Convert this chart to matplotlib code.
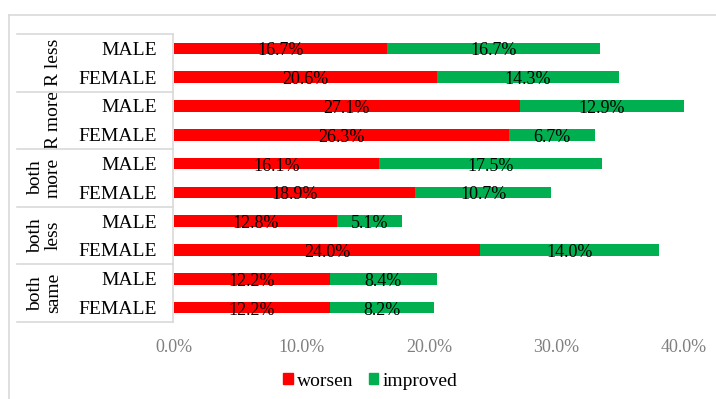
import matplotlib.pyplot as plt
import matplotlib.transforms as mtransforms
from matplotlib.patches import Patch
from matplotlib.lines import Line2D

plt.rcParams['font.family'] = ['Liberation Serif', 'DejaVu Serif']

# groups and rows, top to bottom
groups = ['R less', 'R more', 'both\nmore', 'both\nless', 'both\nsame']
sexes = ['MALE', 'FEMALE']
worsen = [16.7, 20.6, 27.1, 26.3, 16.1, 18.9, 12.8, 24.0, 12.2, 12.2]
improved = [16.7, 14.3, 12.9, 6.7, 17.5, 10.7, 5.1, 14.0, 8.4, 8.2]
ticks = [0, 10, 20, 30, 40]

RED = '#FF0000'
GREEN = '#00B050'
GRID = '#D9D9D9'

W, H = 716, 399
fig = plt.figure(figsize=(W / 100, H / 100), dpi=100)

def fx(px):
    return px / W

def fy(py):
    return 1 - py / H

x0, x1 = 174, 684
y_top, y_bot = 34, 322
ax = fig.add_axes([fx(x0), fy(y_bot), fx(x1) - fx(x0), fy(y_top) - fy(y_bot)])

n = len(worsen)
rows = list(range(n))
ax.barh(rows, worsen, height=0.4, color=RED, clip_on=False)
ax.barh(rows, improved, left=worsen, height=0.4, color=GREEN, clip_on=False)

for i in rows:
    ax.text(worsen[i] / 2, i + 0.09, f'{worsen[i]:.1f}%', ha='center', va='center',
            fontsize=13, color='black')
    ax.text(worsen[i] + improved[i] / 2, i + 0.09, f'{improved[i]:.1f}%',
            ha='center', va='center', fontsize=13, color='black')

ax.set_xlim(0, 40)
ax.set_ylim(n - 0.5, -0.5)
ax.set_xticks(ticks)
ax.set_xticklabels([f'{t:.1f}%' for t in ticks], fontsize=13, color='#7F7F7F')
ax.set_yticks(rows)
ax.set_yticklabels(sexes * len(groups), fontsize=14, color='black')
ax.tick_params(axis='x', length=0, pad=12)
ax.tick_params(axis='y', length=0, pad=12)
for s in ax.spines.values():
    s.set_visible(False)

# group names, rotated
trans = mtransforms.blended_transform_factory(fig.transFigure, ax.transData)
for k, g in enumerate(groups):
    ax.text(fx(62), 2 * k + 0.5, g, transform=trans, rotation=90,
            ha='right', va='center', multialignment='center',
            fontsize=14, color='black', linespacing=1.1)

# category table lines and outer frame
lines = [
    ((9, 716), (15, 15)),
    ((9, 9), (15, 399)),
    ((173, 173), (y_top, y_bot)),
]
for k in range(len(groups) + 1):
    yy = y_top + (y_bot - y_top) * k / len(groups)
    lines.append(((17, 173), (yy, yy)))
for xs, ys in lines:
    fig.add_artist(Line2D([fx(v) for v in xs], [fy(v) for v in ys],
                          color=GRID, lw=1.2))

handles = [Patch(color=RED, label='worsen'), Patch(color=GREEN, label='improved')]
fig.legend(handles=handles, loc='center', bbox_to_anchor=(fx(370), fy(381)),
           ncol=2, frameon=False, fontsize=14, handlelength=0.5, handleheight=0.5,
           handletextpad=0.2, columnspacing=0.8, borderpad=0)

fig.savefig('out.png', dpi=100)
